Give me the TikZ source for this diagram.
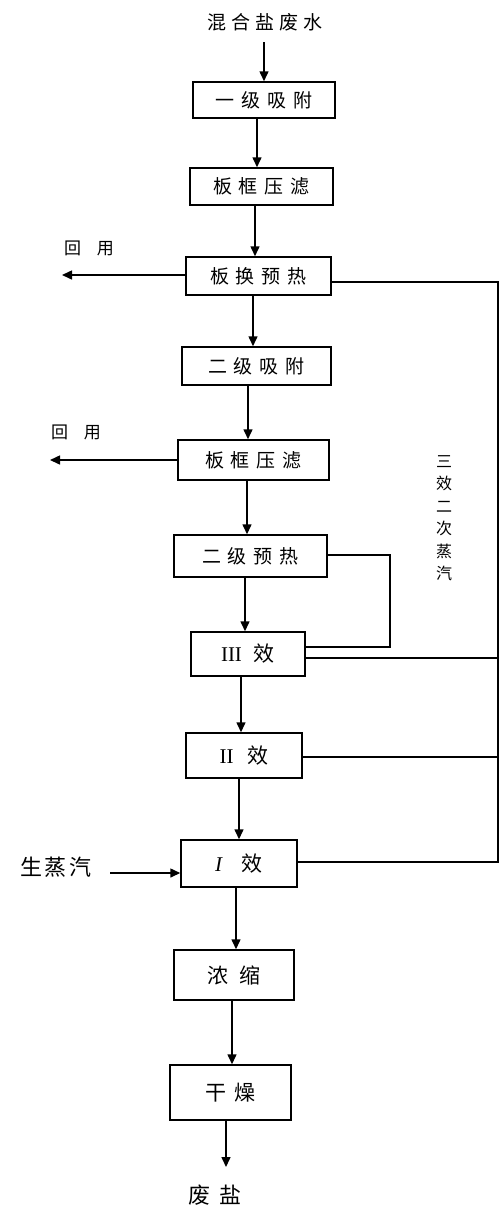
\documentclass[tikz,border=0pt]{standalone}
\usepackage{fontspec}
\setmainfont{Noto Sans CJK SC}
\newfontfamily\romfont{Liberation Serif}
\usetikzlibrary{arrows.meta}
\newcommand\lgap{\hspace{7pt}}
\begin{document}
\begin{tikzpicture}[x=1pt,y=-1pt,line width=1.5pt,
  box/.style={draw,line width=1.5pt,inner sep=0pt,font=\fontsize{19}{21}\selectfont},
  bigbox/.style={box,font=\fontsize{21}{24}\selectfont},
  arr/.style={-{Triangle[length=10pt,width=9pt]}},
  lbl/.style={inner sep=0pt,font=\fontsize{19}{21}\selectfont}]
\useasboundingbox (0,0) rectangle (502,1213);
\fill[white] (0,0) rectangle (502,1213);
% boxes
\node[box,minimum width=142pt,minimum height=36pt] (b1) at (264,100) {一\lgap 级\lgap 吸\lgap 附};
\node[box,minimum width=143pt,minimum height=37pt] (b2) at (261.5,186.5) {板\lgap 框\lgap 压\lgap 滤};
\node[box,minimum width=145pt,minimum height=38pt] (b3) at (258.5,276) {板\lgap 换\lgap 预\lgap 热};
\node[box,minimum width=149pt,minimum height=38pt] (b4) at (256.5,366) {二\lgap 级\lgap 吸\lgap 附};
\node[box,minimum width=151pt,minimum height=40pt] (b5) at (253.5,460) {板\lgap 框\lgap 压\lgap 滤};
\node[box,minimum width=153pt,minimum height=42pt] (b6) at (250.5,556) {二\lgap 级\lgap 预\lgap 热};
\node[bigbox,minimum width=114pt,minimum height=44pt] (b7) at (248,654) {{\romfont III}\hspace{12pt}效};
\node[bigbox,minimum width=116pt,minimum height=45pt] (b8) at (244,755.5) {{\romfont II}\hspace{14pt}效};
\node[bigbox,minimum width=116pt,minimum height=47pt] (b9) at (239,863.5) {{\romfont\itshape I}\hspace{20pt}效};
\node[bigbox,minimum width=120pt,minimum height=50pt] (b10) at (234,975) {浓\hspace{12pt}缩};
\node[bigbox,minimum width=121pt,minimum height=55pt] (b11) at (230.5,1092.5) {干\hspace{8pt}燥};
% labels
\node[lbl] (src) at (265,22) {混\hspace{5pt}合\hspace{5pt}盐\hspace{5pt}废\hspace{5pt}水};
\node[lbl,font=\fontsize{17}{19}\selectfont] (use1) at (89,248) {回\hspace{16pt}用};
\node[lbl,font=\fontsize{17}{19}\selectfont] (use2) at (76,432) {回\hspace{16pt}用};
\node[lbl,font=\fontsize{22}{24}\selectfont] (steam) at (56,867) {生\hspace{3pt}蒸\hspace{3pt}汽};
\node[lbl,font=\fontsize{22}{24}\selectfont] (salt) at (215,1195) {废\hspace{10pt}盐};
\node[lbl,align=center,font=\fontsize{16}{22.5}\selectfont] (vap) at (444,518) {三\\效\\二\\次\\蒸\\汽};
% coordinates
\coordinate (e0) at (264,42);
\coordinate (c1) at (257,0);
\coordinate (c2) at (255,0);
\coordinate (c3) at (253,0);
\coordinate (c4) at (248,0);
\coordinate (c5) at (247,0);
\coordinate (c6) at (245,0);
\coordinate (c7) at (241,0);
\coordinate (c8) at (239,0);
\coordinate (c9) at (236,0);
\coordinate (c10) at (232,0);
\coordinate (e11) at (226,1167);
\coordinate (o3) at (62,275);
\coordinate (o5) at (50,460);
\coordinate (s9) at (110,873);
\coordinate (r3) at (498,282);
\coordinate (r7) at (498,658);
\coordinate (r8) at (498,757);
\coordinate (r9) at (498,862);
\coordinate (l6) at (390,555);
\coordinate (l7) at (390,647);
% main flow
\draw[arr] (e0) -- (b1.north -| e0);
\draw[arr] (b1.south -| c1) -- (b2.north -| c1);
\draw[arr] (b2.south -| c2) -- (b3.north -| c2);
\draw[arr] (b3.south -| c3) -- (b4.north -| c3);
\draw[arr] (b4.south -| c4) -- (b5.north -| c4);
\draw[arr] (b5.south -| c5) -- (b6.north -| c5);
\draw[arr] (b6.south -| c6) -- (b7.north -| c6);
\draw[arr] (b7.south -| c7) -- (b8.north -| c7);
\draw[arr] (b8.south -| c8) -- (b9.north -| c8);
\draw[arr] (b9.south -| c9) -- (b10.north -| c9);
\draw[arr] (b10.south -| c10) -- (b11.north -| c10);
\draw[arr] (b11.south -| e11) -- (e11);
% side flows
\draw[arr] (b3.west |- o3) -- (o3);
\draw[arr] (b5.west |- o5) -- (o5);
\draw[arr] (s9) -- (b9.west |- s9);
% vapour lines
\draw (b3.east |- r3) -- (r3) -- (r9) -- (b9.east |- r9);
\draw (b7.east |- r7) -- (r7);
\draw (b8.east |- r8) -- (r8);
\draw (b6.east |- l6) -- (l6) -- (l7) -- (b7.east |- l7);
\end{tikzpicture}
\end{document}
